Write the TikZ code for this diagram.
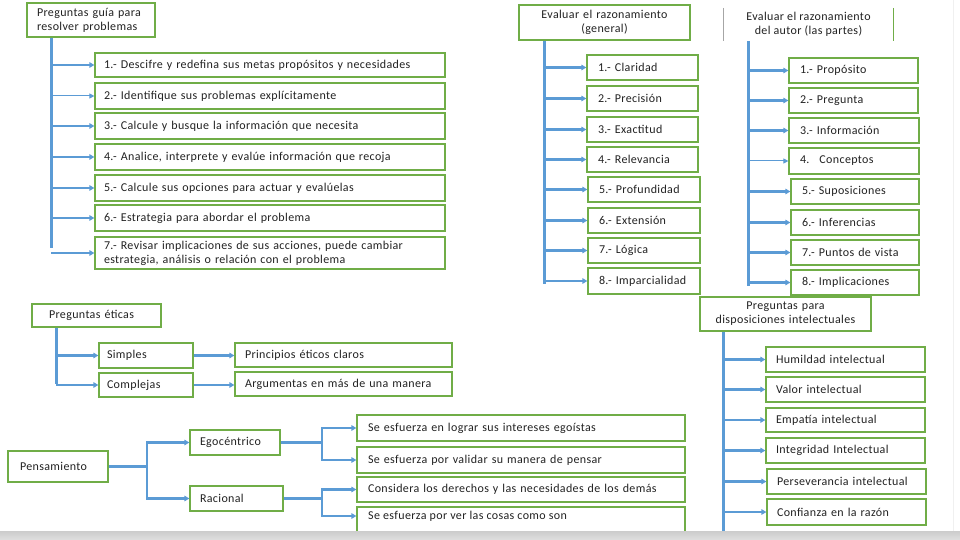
\documentclass[tikz,border=0pt]{standalone}
\usepackage{fontspec}
\setmainfont{Carlito}[LetterSpace=3]
\usetikzlibrary{arrows.meta,calc}
\definecolor{bxc}{HTML}{70AD47}
\definecolor{lnc}{HTML}{5B9BD5}
\definecolor{txc}{HTML}{222222}
\tikzset{
 box/.style={draw=bxc, line width=1.2pt, rectangle, inner xsep=9pt, inner ysep=0pt,
   font=\fontsize{12}{14}\selectfont, text=txc, align=left},
 trunk/.style={draw=lnc, line width=3pt},
 arr/.style={draw=lnc, line width=2.4pt, -{Triangle[length=5pt,width=5.5pt]}},
 thinarr/.style={draw=lnc, line width=1pt, -{Triangle[length=5pt,width=5pt]}},
}
\newcommand\bx[7][]{%
 \node[box,#1,minimum width={(#5-#3)*1pt}, minimum height={(#6-#4)*1pt},
   text width={(#5-#3)*1pt-2*\pgfkeysvalueof{/pgf/inner xsep}}]
   (#2) at ({(#3+#5)/2},{(#4+#6)/2}) {#7};}
\begin{document}
\begin{tikzpicture}[x=1pt,y=-1pt]
\useasboundingbox (0,0) rectangle (960,540);
\fill[white] (0,0) rectangle (960,540);
% ---------- top-left ----------
\bx[inner xsep=10pt]{q}{27}{3}{155}{37}{Preguntas guía para\\resolver problemas}
\bx{b1}{95}{53}{445}{77}{1.- Descifre y redefina sus metas propósitos y necesidades}
\bx{b2}{95}{83}{445}{109}{2.- Identifique sus problemas explícitamente}
\bx{b3}{95}{113}{445}{139}{3.- Calcule y busque la información que necesita}
\bx{b4}{95}{144}{445}{170}{4.- Analice, interprete y evalúe información que recoja}
\bx{b5}{95}{175}{445}{201}{5.- Calcule sus opciones para actuar y evalúelas}
\bx{b6}{95}{205}{445}{231}{6.- Estrategia para abordar el problema}
\bx{b7}{95}{237}{445}{269}{7.- Revisar implicaciones de sus acciones, puede cambiar\\estrategia, análisis o relación con el problema}
\coordinate (qe) at (51,248);
\draw[trunk] (q.south -| qe) -- (qe);
\foreach \b in {b1,b3,b4,b5,b6,b7} \draw[arr] (qe |- \b.west) -- (\b.west);
\draw[thinarr] (qe |- b2.west) -- (b2.west);
% ---------- middle ----------
\bx[align=center]{g}{519}{5}{690}{40}{Evaluar el razonamiento\\(general)}
\bx[inner xsep=11pt]{g1}{587}{55}{698}{80}{1.- Claridad}
\bx[inner xsep=11pt]{g2}{587}{86}{698}{111}{2.- Precisión}
\bx[inner xsep=11pt]{g3}{587}{117}{698}{142}{3.- Exactitud}
\bx[inner xsep=11pt]{g4}{587}{147}{698}{172}{4.- Relevancia}
\bx[inner xsep=11pt]{g5}{588}{177}{700}{202}{5.- Profundidad}
\bx[inner xsep=11pt]{g6}{588}{208}{700}{233}{6.- Extensión}
\bx[inner xsep=11pt]{g7}{588}{238}{700}{263}{7.- Lógica}
\bx[inner xsep=11pt]{g8}{588}{268}{700}{294}{8.- Imparcialidad}
\coordinate (ge) at (544,284);
\draw[trunk] (g.south -| ge) -- (ge);
\foreach \b in {g1,g2,g3,g4,g5,g6,g7,g8} \draw[arr] (ge |- \b.west) -- (\b.west);
% ---------- right ----------
\node[font=\fontsize{12}{14}\selectfont, text=txc, align=center, minimum width=170pt, minimum height=33pt, inner sep=0pt]
  (a) at (808.5,24.5) {Evaluar el razonamiento\\del autor (las partes)};
\draw[gray!70, line width=1pt] (a.north west) -- (a.south west);
\draw[bxc, line width=1.4pt] (a.north east) -- (a.south east);
\bx[inner xsep=11pt]{a1}{789}{58}{918}{83}{1.- Propósito}
\bx[inner xsep=11pt]{a2}{789}{88}{918}{113}{2.- Pregunta}
\bx[inner xsep=11pt]{a3}{789}{118}{919}{143}{3.- Información}
\bx[inner xsep=11pt]{a4}{789}{148}{919}{174}{4.~ Conceptos}
\bx[inner xsep=11pt]{a5}{791}{179}{919}{204}{5.- Suposiciones}
\bx[inner xsep=11pt]{a6}{791}{210}{919}{235}{6.- Inferencias}
\bx[inner xsep=11pt]{a7}{791}{240}{919}{265}{7.- Puntos de vista}
\bx[inner xsep=11pt]{a8}{791}{270}{919}{295}{8.- Implicaciones}
\coordinate (ae) at (748,286);
\draw[trunk] (a.south -| ae) -- (ae);
\foreach \b in {a1,a2,a3,a5,a6,a7,a8} \draw[arr] (ae |- \b.west) -- (\b.west);
\draw[thinarr] (ae |- a4.west) -- (a4.west);
% ---------- disposiciones ----------
\bx[align=center]{d}{700}{297}{871}{331}{Preguntas para\\disposiciones intelectuales}
\bx[inner xsep=10pt]{d1}{766}{347}{925}{372}{Humildad intelectual}
\bx[inner xsep=10pt]{d2}{766}{377}{925}{402}{Valor intelectual}
\bx[inner xsep=10pt]{d3}{766}{408}{925}{432}{Empatía intelectual}
\bx[inner xsep=10pt]{d4}{766}{438}{925}{463}{Integridad Intelectual}
\bx[inner xsep=10pt]{d5}{767}{469}{926}{494}{Perseverancia intelectual}
\bx[inner xsep=10pt]{d6}{767}{499}{926}{525}{Confianza en la razón}
\coordinate (de) at (723,540);
\draw[trunk] (d.south -| de) -- (de);
\foreach \b in {d1,d2,d3,d4,d5,d6} \draw[arr] (de |- \b.west) -- (\b.west);
% ---------- éticas ----------
\bx[inner xsep=17pt]{e}{32}{304}{161}{327}{Preguntas éticas}
\bx[inner xsep=8pt]{e1}{99}{343}{193}{368}{Simples}
\bx[inner xsep=8pt]{e2}{99}{373}{193}{397}{Complejas}
\bx[inner xsep=10pt]{e3}{235}{343}{452}{367}{Principios éticos claros}
\bx[inner xsep=10pt]{e4}{235}{372}{452}{396}{Argumentas en más de una manera}
\coordinate (ee) at (56,384);
\draw[trunk] (e.south -| ee) -- (ee);
\draw[arr] (ee |- e1.west) -- (e1.west);
\draw[arr] (ee |- e2.west) -- (e2.west);
\draw[arr] (e1.east) -- (e3.west |- e1.east);
\draw[arr] (e2.east) -- (e4.west |- e2.east);
% ---------- pensamiento ----------
\bx[inner xsep=12pt]{p}{8}{451}{108}{482}{Pensamiento}
\bx[inner xsep=10pt]{p1}{190}{430}{280}{455}{Egocéntrico}
\bx[inner xsep=10pt]{p2}{190}{486}{283}{511}{Racional}
\bx[inner xsep=11pt]{s1}{357}{415}{685}{441}{Se esfuerza en lograr sus intereses egoístas}
\bx[inner xsep=11pt]{s2}{357}{447}{685}{473}{Se esfuerza por validar su manera de pensar}
\bx[inner xsep=11pt]{s3}{357}{477}{685}{502}{Considera los derechos y las necesidades de los demás}
\bx[inner xsep=11pt]{s4}{357}{507}{685}{545}{}
\node[font=\fontsize{12}{14}\selectfont, text=txc, anchor=west, inner sep=0pt] (s4t) at (368,516) {Se esfuerza por ver las cosas como son};
\coordinate (pj) at (147,0);
\draw[arr] (p.east) -- (p.east -| pj) |- (p1.west);
\draw[arr] (p.east -| pj) |- (p2.west);
\coordinate (ej) at (322,0);
\draw[arr] (p1.east) -- (p1.east -| ej) |- (s1.west);
\draw[arr] (p1.east -| ej) |- (s2.west);
\draw[arr] (p2.east) -- (p2.east -| ej) |- (s3.west);
\draw[arr] (p2.east -| ej) |- (s4t.west -| s4.west);
% ---------- page edge ----------
\draw[gray!12, line width=1pt] (953,0) -- (953,531);
\shade[top color=gray!40, bottom color=gray!25] (0,531) rectangle (960,540);
\end{tikzpicture}
\end{document}
